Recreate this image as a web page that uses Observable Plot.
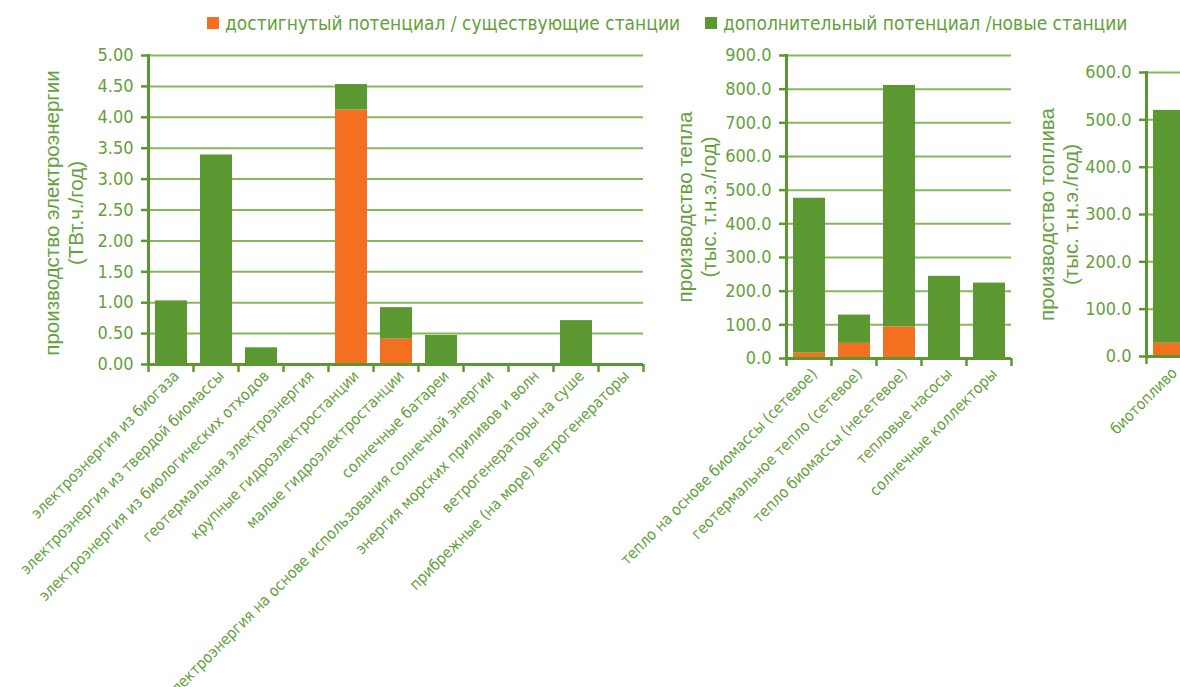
<!DOCTYPE html>
<html><head><meta charset="utf-8">
<script src="https://cdn.jsdelivr.net/npm/d3@7"></script>
<script src="https://cdn.jsdelivr.net/npm/@observablehq/plot@0.6"></script>
<style>
html,body{margin:0;padding:0;background:#fff;overflow:hidden;width:1180px;height:687px;}
#root{position:relative;width:1180px;height:687px;overflow:hidden;font-family:"DejaVu Sans Condensed","DejaVu Sans",sans-serif;}
.panel{position:absolute;top:0;}
.leg{position:absolute;top:12px;display:flex;align-items:center;font-size:19px;color:#64a03c;white-space:nowrap;font-family:"DejaVu Sans Condensed","DejaVu Sans",sans-serif;}
.sw{display:inline-block;width:12px;height:12px;margin-right:6px;}
</style></head>
<body><div id="root"></div>
<script>
// ---- data ----
const seriesNames = ["достигнутый потенциал / существующие станции", "дополнительный потенциал /новые станции"];
const seriesColors = ["#f37021", "#5c9832"];

const elecCategories = [
  "электроэнергия из биогаза",
  "электроэнергия из твердой биомассы",
  "электроэнергия из биологических отходов",
  "геотермальная электроэнергия",
  "крупные гидроэлектростанции",
  "малые гидроэлектростанции",
  "солнечные батареи",
  "электроэнергия на основе использования солнечной энергии",
  "энергия морских приливов и волн",
  "ветрогенераторы на суше",
  "прибрежные (на море) ветрогенераторы"
];
const elecExisting   = [0, 0, 0, 0, 4.12, 0.41, 0, 0, 0, 0, 0];
const elecAdditional = [1.03, 3.39, 0.27, 0, 0.41, 0.51, 0.47, 0, 0, 0.71, 0];
const elecTicks = [0, 0.5, 1, 1.5, 2, 2.5, 3, 3.5, 4, 4.5, 5];
const elecTitle = "производство электроэнергии\n(ТВт.ч./год)";

const heatCategories = [
  "тепло на основе биомассы (сетевое)",
  "геотермальное тепло (сетевое)",
  "тепло биомассы (несетевое)",
  "тепловые насосы",
  "солнечные коллекторы"
];
const heatExisting   = [16, 45, 94, 0, 0];
const heatAdditional = [460, 84, 717, 244, 224];
const heatTicks = [0, 100, 200, 300, 400, 500, 600, 700, 800, 900];
const heatTitle = "производство тепла\n(тыс. т.н.э./год)";

const fuelCategories = ["биотопливо"];
const fuelExisting   = [28];
const fuelAdditional = [492];
const fuelTicks = [0, 100, 200, 300, 400, 500, 600];
const fuelTitle = "производство топлива\n(тыс. т.н.э./год)";

// ---- styles ----
const textColor = "#64a03c";
const axisColor = "#5c9832";
const gridColor = "#86b85a";
const tickFont = "DejaVu Sans Condensed, DejaVu Sans, sans-serif";
const H = 687;

function rows(cats, existing, additional) {
  const out = [];
  cats.forEach((c, i) => {
    out.push({category: c, series: seriesNames[0], value: existing[i]});
    out.push({category: c, series: seriesNames[1], value: additional[i]});
  });
  return out;
}

function panel(o) {
  const data = rows(o.cats, o.existing, o.additional);
  const plot = Plot.plot({
    width: o.width, height: H,
    marginLeft: o.marginLeft, marginRight: o.marginRight,
    marginTop: o.top, marginBottom: H - o.bottom,
    style: {fontFamily: tickFont, color: textColor, background: "transparent", overflow: "visible"},
    x: {domain: o.cats, paddingInner: 0.29, paddingOuter: 0.145, axis: null},
    y: {domain: [o.ticks[0], o.ticks[o.ticks.length - 1]], axis: null},
    color: {domain: seriesNames, range: seriesColors},
    marks: [
      Plot.gridY(o.ticks.slice(1), {stroke: gridColor, strokeOpacity: 1, strokeWidth: 2}),
      Plot.barY(data, {x: "category", y: "value", fill: "series"}),
      Plot.ruleY([0], {stroke: axisColor, strokeWidth: 3}),
      Plot.frame({anchor: "left", stroke: axisColor, strokeWidth: 3}),
      Plot.axisY(o.ticks, {label: null, tickFormat: o.fmt, tickSize: 7, tickPadding: 8, fontSize: 18, stroke: axisColor, strokeWidth: 2.5, fill: textColor}),
      Plot.axisX({label: null, tickRotate: -45, tickSize: 0, tickPadding: o.labelPad, fontSize: 15.5, fill: textColor, dx: 5}),
      Plot.text([o.title], {frameAnchor: "left", rotate: -90, dx: o.titleDx, dy: o.titleDy, fontSize: 20.5, lineHeight: 1.15,
        lineAnchor: "middle", textAnchor: "middle", fill: textColor, fontFamily: "Liberation Sans, Arial, sans-serif"})
    ]
  });
  // category boundary tick marks (Excel style)
  const xs = plot.scale("x");
  const gap = xs.step - xs.bandwidth;
  const bounds = o.cats.map(c => xs.apply(c) - gap / 2);
  bounds.push(xs.apply(o.cats[o.cats.length - 1]) + xs.bandwidth + gap / 2);
  d3.select(plot).append("g").selectAll("line").data(bounds).join("line")
    .attr("x1", d => d).attr("x2", d => d)
    .attr("y1", o.bottom).attr("y2", o.bottom + 8)
    .attr("stroke", axisColor).attr("stroke-width", 2.5);
  plot.classList.add("panel");
  plot.style.left = o.left + "px";
  document.getElementById("root").appendChild(plot);
}

panel({cats: elecCategories, existing: elecExisting, additional: elecAdditional, ticks: elecTicks,
  fmt: d3.format(".2f"), title: elecTitle, left: 0, width: 660, marginLeft: 148, marginRight: 17,
  top: 55, bottom: 364, titleDx: -85, titleDy: 3, labelPad: 9});
panel({cats: heatCategories, existing: heatExisting, additional: heatAdditional, ticks: heatTicks,
  fmt: d3.format(".1f"), title: heatTitle, left: 640, width: 380, marginLeft: 146, marginRight: 9,
  top: 55, bottom: 358, titleDx: -90, titleDy: 0, labelPad: 13});
panel({cats: fuelCategories, existing: fuelExisting, additional: fuelAdditional, ticks: fuelTicks,
  fmt: d3.format(".1f"), title: fuelTitle, left: 1000, width: 200, marginLeft: 146, marginRight: 9,
  top: 72, bottom: 356, titleDx: -88, titleDy: 0, labelPad: 14});

// legend
const legLefts = [207, 705];
seriesNames.forEach((s, i) => {
  const d = document.createElement("div");
  d.className = "leg";
  d.style.left = legLefts[i] + "px";
  d.innerHTML = `<span class="sw" style="background:${seriesColors[i]}"></span><span></span>`;
  d.lastChild.textContent = s;
  document.getElementById("root").appendChild(d);
});
</script>
</body></html>
